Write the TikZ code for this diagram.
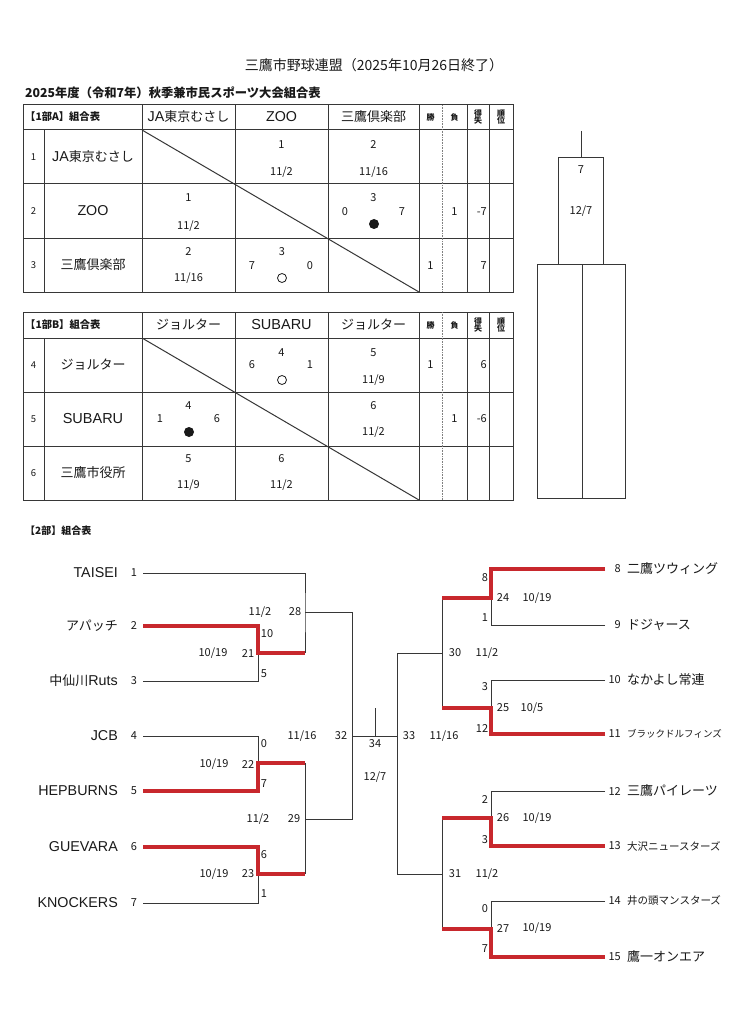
\documentclass[tikz,border=0pt]{standalone}
\usepackage{fontspec}
\setmainfont{Noto Sans CJK JP}
\newfontfamily\lat{Liberation Sans}
\newcommand\fsz[1]{\fontsize{#1}{#1}\selectfont}
\definecolor{lc}{RGB}{55,55,55}
\definecolor{tc}{RGB}{25,25,25}
\definecolor{winred}{RGB}{200,40,45}
\tikzset{
  tl/.style={draw=lc, line width=1pt},
  br/.style={draw=lc, line width=0.8pt},
  win/.style={draw=winred, line width=3.2pt},
  t/.style={inner sep=0pt, text=tc},
  tn/.style={t, font=\fsz{13}},
  ln/.style={t, font=\lat\fsz{14.3}},
  cn/.style={t, font=\fsz{11}},
  bn/.style={t, font=\fsz{11}},
  sm/.style={t, font=\fsz{8}\bfseries, align=center},
  rn/.style={t, font=\fsz{9.5}},
}
\begin{document}
\begin{tikzpicture}[x=1pt,y=-1pt]
\useasboundingbox[fill=white] (0,0) rectangle (729,1024);

% titles
\node[t,font=\fsz{14}] (title) at (374,65) {三鷹市野球連盟（2025年10月26日終了）};
\node[t,font=\fsz{12.3}\bfseries,anchor=west] (sub) at (25,93) {2025年度（令和7年）秋季兼市民スポーツ大会組合表};

% ---------- Table A ----------
\draw[tl] (23,105) rectangle (513,292);
\foreach \y in {130,184,238} \draw[tl] (23,\y) -- (513,\y);
\draw[tl] (44,130) -- (44,292);
\foreach \x in {142,235,328,419,467,489} \draw[tl] (\x,105) -- (\x,292);
\draw[draw=gray, line width=0.6pt, densely dotted] (442,105) -- (442,292);
\draw[tl] (142,130) -- (419,292);

\node[t,font=\fsz{10.3}\bfseries,anchor=west] (hA) at (25,117) {【1部A】組合表};
\node[tn] (hA1) at (188.5,117) {{\lat\fsz{14.3}JA}東京むさし};
\node[ln] (hA2) at (281.5,117) {ZOO};
\node[tn] (hA3) at (373.5,117) {三鷹倶楽部};
\node[sm] (hAw) at (430.5,117) {勝};
\node[sm] (hAl) at (454.5,117) {負};
\node[sm] (hAd) at (478,117) {得\\[-1pt]失};
\node[sm] (hAr) at (501,117) {順\\[-1pt]位};

\node[rn] (rA1) at (33.5,157) {1};
\node[rn] (rA2) at (33.5,211) {2};
\node[rn] (rA3) at (33.5,265) {3};
\node[tn] (nA1) at (93,157) {{\lat\fsz{14.3}JA}東京むさし};
\node[ln] (nA2) at (93,211) {ZOO};
\node[tn] (nA3) at (93,265) {三鷹倶楽部};

\node[cn] (a12a) at (281.5,145) {1};
\node[cn] (a12b) at (281.5,172) {11/2};
\node[cn] (a13a) at (373.5,145) {2};
\node[cn] (a13b) at (373.5,172) {11/16};
\node[cn] (a21a) at (188.5,198) {1};
\node[cn] (a21b) at (188.5,226) {11/2};
\node[cn] (a23a) at (373.5,198) {3};
\node[cn] (a23l) at (345,212) {0};
\node[cn] (a23r) at (402,212) {7};
\fill[tc] (374,224) circle (5);
\node[cn] (a2l) at (454.5,212) {1};
\node[cn,anchor=east] (a2d) at (487,212) {-7};
\node[cn] (a31a) at (188.5,252) {2};
\node[cn] (a31b) at (188.5,278) {11/16};
\node[cn] (a32a) at (282,252) {3};
\node[cn] (a32l) at (252,266) {7};
\node[cn] (a32r) at (310,266) {0};
\draw[tc, line width=0.8pt] (282,278) circle (4.5);
\node[cn] (a3w) at (430.5,266) {1};
\node[cn,anchor=east] (a3d) at (487,266) {7};

% ---------- Table B ----------
\draw[tl] (23,312) rectangle (513,500);
\foreach \y in {338,392,446} \draw[tl] (23,\y) -- (513,\y);
\draw[tl] (44,338) -- (44,500);
\foreach \x in {142,235,328,419,467,489} \draw[tl] (\x,312) -- (\x,500);
\draw[draw=gray, line width=0.6pt, densely dotted] (442,312) -- (442,500);
\draw[tl] (142,338) -- (419,500);

\node[t,font=\fsz{10.3}\bfseries,anchor=west] (hB) at (25,325) {【1部B】組合表};
\node[tn] (hB1) at (188.5,325) {ジョルター};
\node[t,font=\lat\fsz{14.5}] (hB2) at (281.5,325) {SUBARU};
\node[tn] (hB3) at (373.5,325) {ジョルター};
\node[sm] (hBw) at (430.5,325) {勝};
\node[sm] (hBl) at (454.5,325) {負};
\node[sm] (hBd) at (478,325) {得\\[-1pt]失};
\node[sm] (hBr) at (501,325) {順\\[-1pt]位};

\node[rn] (rB4) at (33.5,365) {4};
\node[rn] (rB5) at (33.5,419) {5};
\node[rn] (rB6) at (33.5,473) {6};
\node[tn] (nB4) at (93,365) {ジョルター};
\node[t,font=\lat\fsz{14.5}] (nB5) at (93,419) {SUBARU};
\node[tn] (nB6) at (93,473) {三鷹市役所};

\node[cn] (b45a) at (281.5,353) {4};
\node[cn] (b45l) at (252,365) {6};
\node[cn] (b45r) at (310,365) {1};
\draw[tc, line width=0.8pt] (282,380) circle (4.5);
\node[cn] (b46a) at (373.5,353) {5};
\node[cn] (b46b) at (373.5,380) {11/9};
\node[cn] (b4w) at (430.5,365) {1};
\node[cn,anchor=east] (b4d) at (487,365) {6};
\node[cn] (b54a) at (188.5,406) {4};
\node[cn] (b54l) at (160,419) {1};
\node[cn] (b54r) at (217,419) {6};
\fill[tc] (189,432) circle (5);
\node[cn] (b56a) at (373.5,406) {6};
\node[cn] (b56b) at (373.5,432) {11/2};
\node[cn] (b5l) at (454.5,419) {1};
\node[cn,anchor=east] (b5d) at (487,419) {-6};
\node[cn] (b64a) at (188.5,459) {5};
\node[cn] (b64b) at (188.5,485) {11/9};
\node[cn] (b65a) at (281.5,459) {6};
\node[cn] (b65b) at (281.5,485) {11/2};

% ---------- Tower ----------
\draw[br] (581,131) -- (581,157);
\draw[br] (558,157) rectangle (603,264);
\draw[br] (537,264) rectangle (625,498);
\draw[br] (582,264) -- (582,498);
\node[cn] (tw7) at (581,170) {7};
\node[cn] (tw127) at (581,211) {12/7};

% ---------- 2部 ----------
\node[t,font=\fsz{10}\bfseries,anchor=west] (h2) at (25,531) {【2部】組合表};

% coordinates
\coordinate (L1) at (143,573);
\coordinate (L2) at (143,626);
\coordinate (L3) at (143,681);
\coordinate (L4) at (143,736);
\coordinate (L5) at (143,791);
\coordinate (L6) at (143,847);
\coordinate (L7) at (143,903);
\coordinate (R8) at (605,569);
\coordinate (R9) at (605,625);
\coordinate (R10) at (605,680);
\coordinate (R11) at (605,734);
\coordinate (R12) at (605,791);
\coordinate (R13) at (605,846);
\coordinate (R14) at (605,901);
\coordinate (R15) at (605,957);
\coordinate (J21) at (258,653);
\coordinate (J22) at (258,763);
\coordinate (J23) at (258,874);
\coordinate (J28) at (305,612);
\coordinate (J29) at (305,819);
\coordinate (J32) at (352,736);
\coordinate (J34) at (375,736);
\coordinate (J34t) at (375,708);
\coordinate (J33) at (397,736);
\coordinate (J30) at (442,653);
\coordinate (J31) at (442,874);
\coordinate (J24) at (491,598);
\coordinate (J25) at (491,708);
\coordinate (J26) at (491,818);
\coordinate (J27) at (491,929);

% black lines
\draw[br] (L1) -| (J28) -- (J28 |- J21);
\draw[br] (L3) -| (J21);
\draw[br] (L4) -| (J22);
\draw[br] (L7) -| (J23);
\draw[br] (J28 |- J22) -- (J28 |- J23);
\draw[br] (J28) -- (J32 |- J28) -- (J32 |- J29) -- (J29);
\draw[br] (J32) -- (J33);
\draw[br] (J34t) -- (J34);
\draw[br] (J33 |- J30) -- (J33 |- J31);
\draw[br] (J33 |- J30) -- (J30);
\draw[br] (J33 |- J31) -- (J31);
\draw[br] (J30 |- J24) -- (J30 |- J25);
\draw[br] (J31 |- J26) -- (J31 |- J27);
\draw[br] (R9) -| (J24);
\draw[br] (R10) -| (J25);
\draw[br] (R12) -| (J26);
\draw[br] (R14) -| (J27);

% red winner lines
\draw[win] (L2) -| (J21) -- (J28 |- J21);
\draw[win] (L5) -| (J22) -- (J28 |- J22);
\draw[win] (L6) -| (J23) -- (J28 |- J23);
\draw[win] (R8) -| (J24) -- (J30 |- J24);
\draw[win] (R11) -| (J25) -- (J30 |- J25);
\draw[win] (R13) -| (J26) -- (J31 |- J26);
\draw[win] (R15) -| (J27) -- (J31 |- J27);

% left team labels
\node[ln,anchor=east] (tL1) at (118,573) {TAISEI};
\node[tn,anchor=east] (tL2) at (118,626) {アパッチ};
\node[tn,anchor=east] (tL3) at (118,681) {中仙川{\lat\fsz{14.3}Ruts}};
\node[ln,anchor=east] (tL4) at (118,736) {JCB};
\node[ln,anchor=east] (tL5) at (118,791) {HEPBURNS};
\node[ln,anchor=east] (tL6) at (118,847) {GUEVARA};
\node[ln,anchor=east] (tL7) at (118,903) {KNOCKERS};
\foreach \n/\y in {1/573,2/626,3/681,4/736,5/791,6/847,7/903}
  \node[bn] (nL\n) at (134,\y) {\n};

% right team labels
\foreach \n/\y in {8/569,9/625,10/680,11/734,12/791,13/846,14/901,15/957}
  \node[bn,anchor=east] (nR\n) at (621,\y) {\n};
\node[tn,anchor=west] (tR8) at (627,569) {二鷹ツウィング};
\node[tn,anchor=west] (tR9) at (627,625) {ドジャース};
\node[tn,anchor=west] (tR10) at (627,680) {なかよし常連};
\node[t,font=\fsz{9.5},anchor=west] (tR11) at (627,734) {ブラックドルフィンズ};
\node[tn,anchor=west] (tR12) at (627,791) {三鷹パイレーツ};
\node[t,font=\fsz{10.5},anchor=west] (tR13) at (627,846) {大沢ニュースターズ};
\node[t,font=\fsz{10.5},anchor=west] (tR14) at (627,901) {井の頭マンスターズ};
\node[tn,anchor=west] (tR15) at (627,957) {鷹一オンエア};

% left bracket scores
\node[bn] (s28d) at (260,612) {11/2};
\node[bn] (s28) at (295,612) {28};
\node[bn] (s2) at (267,634) {10};
\node[bn] (s21d) at (213,653) {10/19};
\node[bn] (s21) at (248,653) {21};
\node[bn] (s3) at (264,674) {5};
\node[bn] (s4) at (264,744) {0};
\node[bn] (s22d) at (214,764) {10/19};
\node[bn] (s22) at (248,764) {22};
\node[bn] (s5) at (264,784) {7};
\node[bn] (s29d) at (258,819) {11/2};
\node[bn] (s29) at (294,819) {29};
\node[bn] (s6) at (264,855) {6};
\node[bn] (s23d) at (214,874) {10/19};
\node[bn] (s23) at (248,874) {23};
\node[bn] (s7) at (264,894) {1};
\node[bn] (s32d) at (302,736) {11/16};
\node[bn] (s32) at (341,736) {32};

% center
\node[bn] (s34) at (375,744) {34};
\node[bn] (s34d) at (375,777) {12/7};
\node[bn] (s33) at (409,736) {33};
\node[bn] (s33d) at (444,736) {11/16};

% right bracket scores
\node[bn] (s8) at (485,578) {8};
\node[bn] (s24) at (503,598) {24};
\node[bn] (s24d) at (537,598) {10/19};
\node[bn] (s9) at (485,618) {1};
\node[bn] (s30) at (455,653) {30};
\node[bn] (s30d) at (487,653) {11/2};
\node[bn] (s10) at (485,687) {3};
\node[bn] (s25) at (503,708) {25};
\node[bn] (s25d) at (532,708) {10/5};
\node[bn] (s11) at (482,728) {12};
\node[bn] (s12) at (485,799) {2};
\node[bn] (s26) at (503,818) {26};
\node[bn] (s26d) at (537,818) {10/19};
\node[bn] (s13) at (485,840) {3};
\node[bn] (s31) at (455,874) {31};
\node[bn] (s31d) at (487,874) {11/2};
\node[bn] (s14) at (485,909) {0};
\node[bn] (s27) at (503,928) {27};
\node[bn] (s27d) at (537,928) {10/19};
\node[bn] (s15) at (485,949) {7};
\end{tikzpicture}
\end{document}
